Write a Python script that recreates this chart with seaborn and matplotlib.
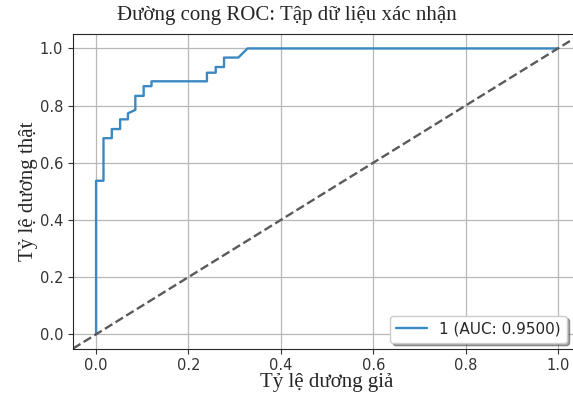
import pandas as pd
import seaborn as sns
import matplotlib.pyplot as plt

# ROC points
fpr = [0.0, 0.0, 0.016, 0.016, 0.034, 0.034, 0.052, 0.052, 0.069, 0.069, 0.085, 0.085,
       0.103, 0.103, 0.12, 0.12, 0.24, 0.24, 0.259, 0.259, 0.277, 0.277, 0.308, 0.328, 1.0]
tpr = [0.0, 0.537, 0.537, 0.686, 0.686, 0.718, 0.718, 0.752, 0.752, 0.773, 0.785, 0.834,
       0.834, 0.868, 0.868, 0.885, 0.885, 0.915, 0.915, 0.935, 0.935, 0.968, 0.968, 1.0, 1.0]
label = '1 (AUC: 0.9500)'

df = pd.DataFrame({'fpr': fpr, 'tpr': tpr})

sns.set_style('ticks')
plt.rcParams['font.family'] = ['DejaVu Sans']

fig = plt.figure(figsize=(5.73, 3.97), dpi=100)
ax = fig.add_axes([0.1274, 0.122, 0.8866, 0.792])

sns.lineplot(data=df, x='fpr', y='tpr', sort=False, estimator=None,
             color='#3a89c3', linewidth=1.7, label=label, ax=ax)
ax.axline((0, 0), slope=1, color='#5a5a5a', linestyle='--', linewidth=1.7)

ax.set_xlim(-0.05, 1.05)
ax.set_ylim(-0.05, 1.05)
ax.set_xticks([0, 0.2, 0.4, 0.6, 0.8, 1.0])
ax.set_yticks([0, 0.2, 0.4, 0.6, 0.8, 1.0])
ax.grid(True, color='#b8b8b8', linewidth=0.9)
ax.tick_params(labelsize=10.5, colors='#333333', labelcolor='#333333')

serif = ['Liberation Serif', 'DejaVu Serif']
fig.suptitle('Đường cong ROC: Tập dữ liệu xác nhận', fontsize=15, family=serif, y=0.985)
ax.set_xlabel('Tỷ lệ dương giả', fontsize=15, family=serif, labelpad=0)
ax.set_ylabel('Tỷ lệ dương thật', fontsize=15, family=serif, labelpad=1)

ax.legend(loc='lower right', bbox_to_anchor=(0.972, 0.018), borderaxespad=0,
          shadow=True, fancybox=True, fontsize=11)

fig.savefig('out.png', dpi=100)
